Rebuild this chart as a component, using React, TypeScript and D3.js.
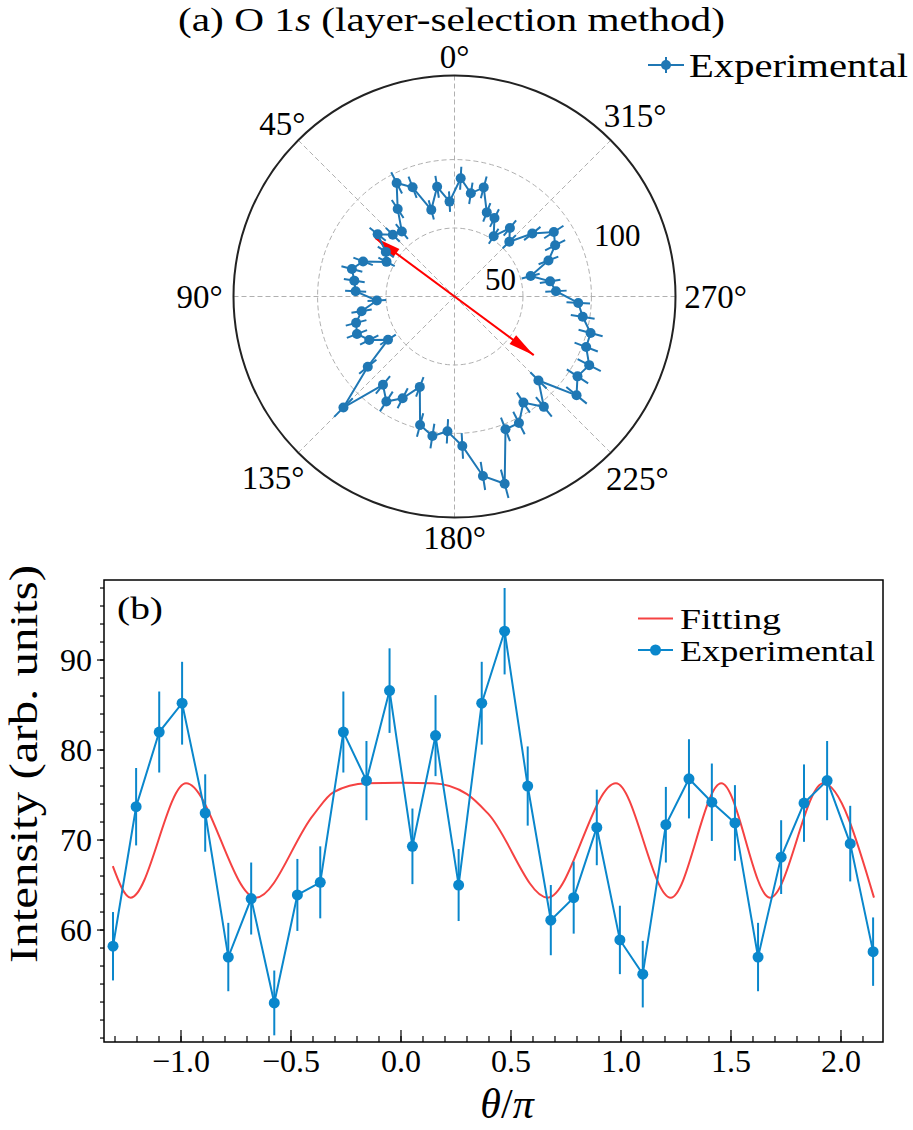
import React from 'react';
import * as d3 from 'd3';

// ---------- Polar panel (a) data ----------
const polarAngles = [3, 9, 15, 21, 27, 33, 39, 45, 51, 57, 63, 69, 75, 81, 87, 93, 99, 105, 111, 117, 123, 129, 135, 141, 147, 153, 159, 165, 171, 177, 183, 189, 195, 201, 207, 213, 219, 225, 231, 237, 243, 249, 255, 261, 267, 273, 279, 285, 291, 297, 303, 309, 315, 321, 327, 333, 339, 345, 351, 357];
const polarValues = [69.4, 81.1, 65.5, 85.4, 93.1, 76.2, 61.1, 63.7, 72.2, 59.8, 55.7, 71.5, 77.6, 74.1, 72.3, 56.8, 68.7, 74.4, 76.3, 69.9, 57.9, 81.5, 114.7, 83.0, 91.4, 83.4, 70.7, 97.1, 103.2, 98.6, 109.3, 132.7, 141.6, 103.9, 103.7, 92.4, 103.7, 86.7, 114.7, 107.1, 110.4, 103.0, 102.9, 94.8, 90.5, 74.2, 70.7, 57.6, 73.5, 82.5, 86.5, 73.1, 56.6, 64.3, 52.5, 64.3, 65.8, 82.5, 76.3, 86.5];
const polarErrors = [7.5, 8.1, 7.3, 8.3, 8.7, 7.9, 7.0, 7.2, 7.6, 7.0, 6.7, 7.6, 7.9, 7.7, 7.7, 6.8, 7.5, 7.8, 7.9, 7.5, 6.8, 8.1, 9.6, 8.2, 8.6, 8.2, 7.6, 8.9, 9.1, 8.9, 9.4, 10.4, 10.7, 9.2, 9.2, 8.7, 9.2, 8.4, 9.6, 9.3, 9.5, 9.1, 9.1, 8.8, 8.6, 7.8, 7.6, 6.8, 7.7, 8.2, 8.4, 7.7, 6.8, 7.2, 6.5, 7.2, 7.3, 8.2, 7.9, 8.4];
const polarGridAngles = [0, 45, 90, 135, 180, 225, 270, 315];
const polarRTicks = [50, 100];
const polarRMax = 161.4;
const arrowAngle = 53.5;
const arrowLength = 72;

// ---------- Cartesian panel (b) data ----------
const thetaOverPi = [-1.309, -1.204, -1.099, -0.995, -0.890, -0.785, -0.681, -0.576, -0.471, -0.367, -0.262, -0.157, -0.052, 0.052, 0.157, 0.262, 0.367, 0.471, 0.576, 0.681, 0.785, 0.890, 0.995, 1.099, 1.204, 1.309, 1.413, 1.518, 1.623, 1.728, 1.832, 1.937, 2.042, 2.146];
const intensity = [58.2, 73.7, 82.0, 85.2, 73.0, 57.0, 63.5, 51.9, 63.9, 65.3, 82.0, 76.6, 86.6, 69.3, 81.6, 65.0, 85.2, 93.2, 76.0, 61.1, 63.6, 71.4, 58.9, 55.1, 71.7, 76.8, 74.2, 71.9, 57.0, 68.1, 74.1, 76.6, 69.6, 57.6];
const intensityErr = [3.8, 4.3, 4.5, 4.6, 4.3, 3.8, 4.0, 3.6, 4.0, 4.0, 4.5, 4.4, 4.7, 4.2, 4.5, 4.0, 4.6, 4.8, 4.4, 3.9, 4.0, 4.2, 3.8, 3.7, 4.2, 4.4, 4.3, 4.2, 3.8, 4.1, 4.3, 4.4, 4.2, 3.8];
const fitX = [-1.310, -1.229, -0.977, -0.660, -0.398, -0.308, -0.156, 0.0, 0.145, 0.300, 0.397, 0.667, 0.977, 1.226, 1.456, 1.677, 1.920, 2.150];
const fitY = [67.1, 63.6, 76.3, 63.6, 72.8, 75.3, 76.3, 76.35, 76.3, 75.1, 72.9, 63.6, 76.3, 63.6, 76.3, 63.6, 76.3, 63.6];
const xMajorTicks = [-1.0, -0.5, 0.0, 0.5, 1.0, 1.5, 2.0];
const xMinorTicks = [-1.3, -1.2, -1.1, -1.0, -0.9, -0.8, -0.7, -0.6, -0.5, -0.4, -0.3, -0.2, -0.1, 0.0, 0.1, 0.2, 0.3, 0.4, 0.5, 0.6, 0.7, 0.8, 0.9, 1.0, 1.1, 1.2, 1.3, 1.4, 1.5, 1.6, 1.7, 1.8, 1.9, 2.0, 2.1];
const yMajorTicks = [60, 70, 80, 90];
const yMinorTicks = [48, 50, 52, 54, 56, 58, 60, 62, 64, 66, 68, 70, 72, 74, 76, 78, 80, 82, 84, 86, 88, 90, 92, 94, 96, 98];
const xDomain = [-1.35, 2.191];
const yDomain = [47.56, 98.89];

const FONT = "'Liberation Serif', 'DejaVu Serif', serif";
const POLAR_BLUE = '#1f77b4';
const BLUE = '#0a87cc';
const RED = '#f54242';
const GRID = '#b0b0b0';

export default function App() {
  // ---- polar geometry ----
  const cx = 454.5;
  const cy = 296.5;
  const R = 221;
  const rScale = d3.scaleLinear().domain([0, polarRMax]).range([0, R]);
  const toRad = (deg: number) => (-deg * Math.PI) / 180; // CCW from north
  const polarPts = polarAngles.map((a, i) => ({ a, v: polarValues[i], e: polarErrors[i] }));
  const radialLine = d3
    .lineRadial<any>()
    .angle((d) => toRad(d.a))
    .radius((d) => rScale(d.v))
    .curve(d3.curveLinearClosed);

  const labelRadius: Record<number, number> = { 0: 240, 45: 243.5, 90: 255, 135: 256.5, 180: 241.5, 225: 258.5, 270: 261, 315: 255.5 };

  const arrowTipA = d3.pointRadial(toRad(arrowAngle), rScale(arrowLength));
  const arrowTipB = d3.pointRadial(toRad(arrowAngle + 180), rScale(arrowLength));
  const headPath = (tip: [number, number], from: [number, number]) => {
    const dx = tip[0] - from[0];
    const dy = tip[1] - from[1];
    const L = Math.hypot(dx, dy);
    const ux = dx / L, uy = dy / L;
    const hl = 26, hw = 5.5;
    const bx = tip[0] - ux * hl, by = tip[1] - uy * hl;
    return `M${tip[0]},${tip[1]} L${bx - uy * hw},${by + ux * hw} L${bx + uy * hw},${by - ux * hw} Z`;
  };

  // ---- cartesian geometry ----
  const left = 104, right = 883, top = 580, bottom = 1042;
  const x = d3.scaleLinear().domain(xDomain).range([left, right]);
  const y = d3.scaleLinear().domain(yDomain).range([bottom, top]);
  const expPts = thetaOverPi.map((t, i) => ({ t, v: intensity[i], e: intensityErr[i] }));
  const expLine = d3.line<any>().x((d) => x(d.t)).y((d) => y(d.v));
  const fitPts = fitX.map((t, i) => ({ t, v: fitY[i] }));
  const fitLine = d3.line<any>().x((d) => x(d.t)).y((d) => y(d.v)).curve(d3.curveMonotoneX);
  const fmt = (v: number) => (v < 0 ? '\u2212' : '') + Math.abs(v).toFixed(1);

  return (
    <svg width={913} height={1130} style={{ position: 'absolute', left: 0, top: 0, background: '#fff' }} fontFamily={FONT}>
      <rect width={913} height={1130} fill="#fff" />
      {/* ===== Panel (a) ===== */}
      <text x={451.5} y={31} fontSize={33} textAnchor="middle" textLength={547} lengthAdjust="spacingAndGlyphs" fill="#000">
        (a) O 1<tspan fontStyle="italic">s</tspan> (layer-selection method)
      </text>
      <g transform={`translate(${cx},${cy})`}>
        {polarRTicks.map((t) => (
          <circle key={t} r={rScale(t)} fill="none" stroke={GRID} strokeWidth={1} strokeDasharray="5,3" />
        ))}
        {polarGridAngles.map((a) => {
          const p = d3.pointRadial(toRad(a), R);
          return <line key={a} x1={0} y1={0} x2={p[0]} y2={p[1]} stroke={GRID} strokeWidth={1} strokeDasharray="5,3" />;
        })}
        <circle r={R} fill="none" stroke="#222" strokeWidth={2} />
        {polarGridAngles.map((a) => {
          const p = d3.pointRadial(toRad(a), labelRadius[a]);
          return (
            <text key={a} x={p[0]} y={p[1]} fontSize={33} textAnchor="middle" dominantBaseline="central" fill="#000">
              {a}°
            </text>
          );
        })}
        {/* radial tick labels */}
        <text x={46} y={-17.5} fontSize={31} textAnchor="middle" dominantBaseline="central" fill="#000">{polarRTicks[0]}</text>
        <text x={162.8} y={-61.5} fontSize={31} textAnchor="middle" dominantBaseline="central" fill="#000">{polarRTicks[1]}</text>
        {/* red double arrow */}
        <line x1={arrowTipB[0]} y1={arrowTipB[1]} x2={arrowTipA[0]} y2={arrowTipA[1]} stroke="#ff0000" strokeWidth={2} />
        <path d={headPath(arrowTipA, arrowTipB)} fill="#ff0000" />
        <path d={headPath(arrowTipB, arrowTipA)} fill="#ff0000" />
        {/* data */}
        <path d={radialLine(polarPts) || ''} fill="none" stroke={POLAR_BLUE} strokeWidth={2} />
        {polarPts.map((d, i) => {
          const p1 = d3.pointRadial(toRad(d.a), rScale(d.v - d.e));
          const p2 = d3.pointRadial(toRad(d.a), rScale(d.v + d.e));
          return <line key={'e' + i} x1={p1[0]} y1={p1[1]} x2={p2[0]} y2={p2[1]} stroke={POLAR_BLUE} strokeWidth={2} />;
        })}
        {polarPts.map((d, i) => {
          const p = d3.pointRadial(toRad(d.a), rScale(d.v));
          return <circle key={'m' + i} cx={p[0]} cy={p[1]} r={5} fill={POLAR_BLUE} />;
        })}
      </g>
      {/* polar legend */}
      <line x1={648} y1={65} x2={684} y2={65} stroke={POLAR_BLUE} strokeWidth={2} />
      <line x1={666} y1={57} x2={666} y2={73} stroke={POLAR_BLUE} strokeWidth={2} />
      <circle cx={666} cy={65} r={5} fill={POLAR_BLUE} />
      <text x={689} y={77} fontSize={34} textLength={219} lengthAdjust="spacingAndGlyphs" fill="#000">Experimental</text>

      {/* ===== Panel (b) ===== */}
      <path d={fitLine(fitPts) || ''} fill="none" stroke={RED} strokeWidth={2} />
      {expPts.map((d, i) => (
        <line key={'be' + i} x1={x(d.t)} x2={x(d.t)} y1={y(d.v - d.e)} y2={y(d.v + d.e)} stroke={BLUE} strokeWidth={2} />
      ))}
      <path d={expLine(expPts) || ''} fill="none" stroke={BLUE} strokeWidth={2} />
      {expPts.map((d, i) => (
        <circle key={'bm' + i} cx={x(d.t)} cy={y(d.v)} r={5.5} fill={BLUE} />
      ))}
      <rect x={left} y={top} width={right - left} height={bottom - top} fill="none" stroke="#000" strokeWidth={1.5} />
      {/* x ticks (inward) */}
      {xMinorTicks.map((t) => (
        <line key={'xm' + t} x1={x(t)} x2={x(t)} y1={bottom} y2={bottom - 6} stroke="#000" strokeWidth={1.2} />
      ))}
      {xMajorTicks.map((t) => (
        <g key={'xM' + t}>
          <line x1={x(t)} x2={x(t)} y1={bottom} y2={bottom - 12} stroke="#000" strokeWidth={1.2} />
          <text x={x(t)} y={1072} fontSize={32} textAnchor="middle" fill="#000">{fmt(t)}</text>
        </g>
      ))}
      {/* y ticks (outward) */}
      {yMinorTicks.map((t) => (
        <line key={'ym' + t} x1={left} x2={left - 4} y1={y(t)} y2={y(t)} stroke="#000" strokeWidth={1.2} />
      ))}
      {yMajorTicks.map((t) => (
        <g key={'yM' + t}>
          <line x1={left} x2={left - 7} y1={y(t)} y2={y(t)} stroke="#000" strokeWidth={1.2} />
          <text x={92} y={y(t) + 11} fontSize={32} textAnchor="end" fill="#000">{t}</text>
        </g>
      ))}
      <text x={117} y={619} fontSize={32} textLength={46} lengthAdjust="spacingAndGlyphs" fill="#000">(b)</text>
      {/* legend (b) */}
      <line x1={638} y1={618.5} x2={673} y2={618.5} stroke={RED} strokeWidth={2} />
      <text x={680} y={629} fontSize={29} textLength={101} lengthAdjust="spacingAndGlyphs" fill="#000">Fitting</text>
      <line x1={638} y1={650} x2={673} y2={650} stroke={BLUE} strokeWidth={2} />
      <circle cx={655.5} cy={650} r={5.5} fill={BLUE} />
      <text x={680} y={661} fontSize={29} textLength={195} lengthAdjust="spacingAndGlyphs" fill="#000">Experimental</text>
      {/* axis labels */}
      <text x={507} y={1118} fontSize={42} textAnchor="middle" fill="#000">
        <tspan fontStyle="italic">θ</tspan>/<tspan fontStyle="italic">π</tspan>
      </text>
      <text transform="translate(37,764) rotate(-90)" fontSize={40} textAnchor="middle" textLength={398} lengthAdjust="spacingAndGlyphs" fill="#000">
        Intensity (arb. units)
      </text>
    </svg>
  );
}
